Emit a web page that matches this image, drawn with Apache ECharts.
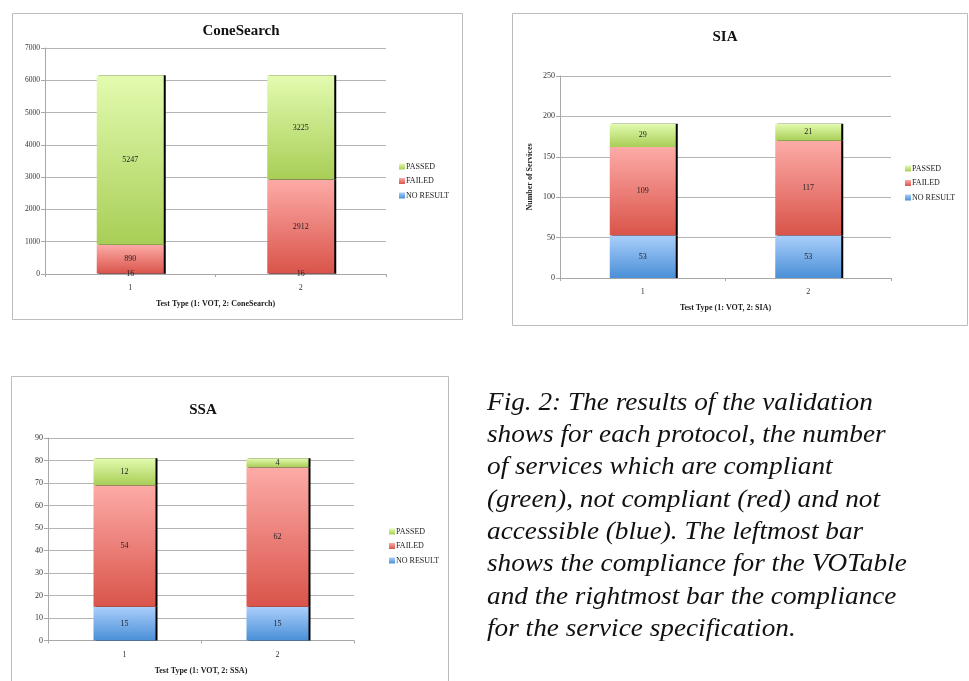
<!DOCTYPE html>
<html>
<head>
<meta charset="utf-8">
<script src="https://cdn.jsdelivr.net/npm/echarts@6/dist/echarts.min.js"></script>
<style>
  html, body { margin: 0; padding: 0; background: #fff; }
  #main { width: 969px; height: 681px; }
</style>
</head>
<body>
<div id="main"></div>
<script>
// Test types on the x axis (1: VOT, 2: protocol specification)
const categories = ['1', '2'];
const seriesNames = ['NO RESULT', 'FAILED', 'PASSED'];

// ConeSearch results
const coneNoResult = [16, 16];
const coneFailed = [890, 2912];
const conePassed = [5247, 3225];

// SIA results
const siaNoResult = [53, 53];
const siaFailed = [109, 117];
const siaPassed = [29, 21];

// SSA results
const ssaNoResult = [15, 15];
const ssaFailed = [54, 62];
const ssaPassed = [12, 4];

// Value-axis ranges
const coneAxis = { max: 7000, interval: 1000 };
const siaAxis = { max: 250, interval: 50 };
const ssaAxis = { max: 90, interval: 10 };

const captionLines = [
  'Fig. 2: The results of the validation',
  'shows for each protocol, the number',
  'of services which are compliant',
  '(green), not compliant (red) and not',
  'accessible (blue). The leftmost bar',
  'shows the compliance for the VOTable',
  'and the rightmost bar the compliance',
  'for the service specification.'
];

const SERIF = '"Liberation Serif", "Times New Roman", serif';

function grad(top, bottom) {
  return new echarts.graphic.LinearGradient(0, 0, 0, 1, [
    { offset: 0, color: top },
    { offset: 1, color: bottom }
  ]);
}
const fills = {
  'NO RESULT': ['#abcffb', '#4a8fd7'],
  'FAILED': ['#fdaba7', '#d9544a'],
  'PASSED': ['#e3fbb0', '#a8ce56']
};

const panels = [
  { title: 'ConeSearch', titleX: 236, titleY: 19, grid: { left: 45, top: 48, width: 341, height: 226 },
    axis: coneAxis, xName: 'Test Type (1: VOT, 2: ConeSearch)', yName: '', yFont: 7.5,
    legend: { left: 394, top: 157 }, barWidth: 67, stack: 'cone',
    data: [coneNoResult, coneFailed, conePassed] },
  { title: 'SIA', titleX: 720, titleY: 25, grid: { left: 560, top: 76, width: 331, height: 202 },
    axis: siaAxis, xName: 'Test Type (1: VOT, 2: SIA)', yName: 'Number of Services', yFont: 8,
    legend: { left: 900, top: 159 }, barWidth: 66, stack: 'sia',
    data: [siaNoResult, siaFailed, siaPassed] },
  { title: 'SSA', titleX: 198, titleY: 398, grid: { left: 48, top: 438, width: 306, height: 202.5 },
    axis: ssaAxis, xName: 'Test Type (1: VOT, 2: SSA)', yName: '', yFont: 8,
    legend: { left: 384, top: 522 }, barWidth: 62, stack: 'ssa',
    data: [ssaNoResult, ssaFailed, ssaPassed] }
];

const option = {
  animation: false,
  backgroundColor: '#fff',
  textStyle: { fontFamily: SERIF },
  title: [],
  legend: [],
  grid: [],
  xAxis: [],
  yAxis: [],
  series: [],
  graphic: []
};

panels.forEach(function (p, i) {
  option.title.push({
    text: p.title, left: p.titleX, top: p.titleY, textAlign: 'center',
    textStyle: { fontFamily: SERIF, fontSize: 15, fontWeight: 'bold', color: '#111' }
  });
  option.legend.push({
    orient: 'vertical', left: p.legend.left, top: p.legend.top,
    data: ['PASSED', 'FAILED', 'NO RESULT'],
    icon: 'rect', itemWidth: 6, itemHeight: 6, itemGap: 5.5,
    selectedMode: false,
    itemStyle: { shadowBlur: 0, shadowOffsetX: 0, shadowOffsetY: 0, shadowColor: 'transparent' },
    textStyle: { fontFamily: SERIF, fontSize: 8, lineHeight: 9, color: '#222', padding: [0, 0, 0, -4] }
  });
  option.grid.push(Object.assign({ containLabel: false }, p.grid));
  option.xAxis.push({
    type: 'category', gridIndex: i, data: categories,
    name: p.xName, nameLocation: 'middle', nameGap: 26,
    nameTextStyle: { fontFamily: SERIF, fontSize: 8, fontWeight: 'bold', color: '#222' },
    axisLine: { lineStyle: { color: '#a8a8a8', width: 1 } },
    axisTick: { show: true, length: 3, lineStyle: { color: '#a8a8a8' } },
    axisLabel: { fontFamily: SERIF, fontSize: 8, color: '#333', margin: 10 }
  });
  option.yAxis.push({
    type: 'value', gridIndex: i, min: 0, max: p.axis.max, interval: p.axis.interval,
    name: p.yName, nameLocation: 'middle', nameGap: 26,
    nameTextStyle: { fontFamily: SERIF, fontSize: 8, fontWeight: 'bold', color: '#222' },
    axisLine: { show: true, lineStyle: { color: '#a8a8a8', width: 1 } },
    axisTick: { show: true, length: 4, lineStyle: { color: '#a8a8a8' } },
    axisLabel: {
      fontFamily: SERIF, fontSize: p.yFont, color: '#333', margin: 5,
      formatter: function (v) { return String(v); }
    },
    splitLine: { show: true, lineStyle: { color: '#b4b4b4', width: 1 } }
  });
  seriesNames.forEach(function (name, k) {
    option.series.push({
      name: name, type: 'bar', stack: p.stack,
      xAxisIndex: i, yAxisIndex: i,
      barWidth: p.barWidth,
      data: p.data[k],
      itemStyle: {
        color: grad(fills[name][0], fills[name][1]),
        shadowColor: '#000', shadowBlur: 0, shadowOffsetX: 2, shadowOffsetY: 0
      },
      label: {
        show: true, position: 'inside',
        fontFamily: SERIF, fontSize: 8, color: '#222'
      }
    });
  });
});

// Frames around each panel
[
  { x: 12.5, y: 13.5, w: 450, h: 306 },
  { x: 512.5, y: 13.5, w: 455, h: 312 },
  { x: 11.5, y: 376.5, w: 437, h: 320 }
].forEach(function (b) {
  option.graphic.push({
    type: 'rect', shape: { x: b.x, y: b.y, width: b.w, height: b.h },
    style: { fill: 'none', stroke: '#bcbcbc', lineWidth: 1 }, silent: true, z: -1
  });
});

// Figure caption (slightly widened italic serif)
option.graphic.push({
  type: 'text', x: 487, y: 387, scaleX: 1.09, scaleY: 1,
  style: {
    text: captionLines.join('\n'),
    font: 'italic 25px ' + SERIF,
    lineHeight: 32.3,
    fill: '#111'
  }
});

const chart = echarts.init(document.getElementById('main'), null, { renderer: 'canvas' });
chart.setOption(option);
</script>
</body>
</html>
